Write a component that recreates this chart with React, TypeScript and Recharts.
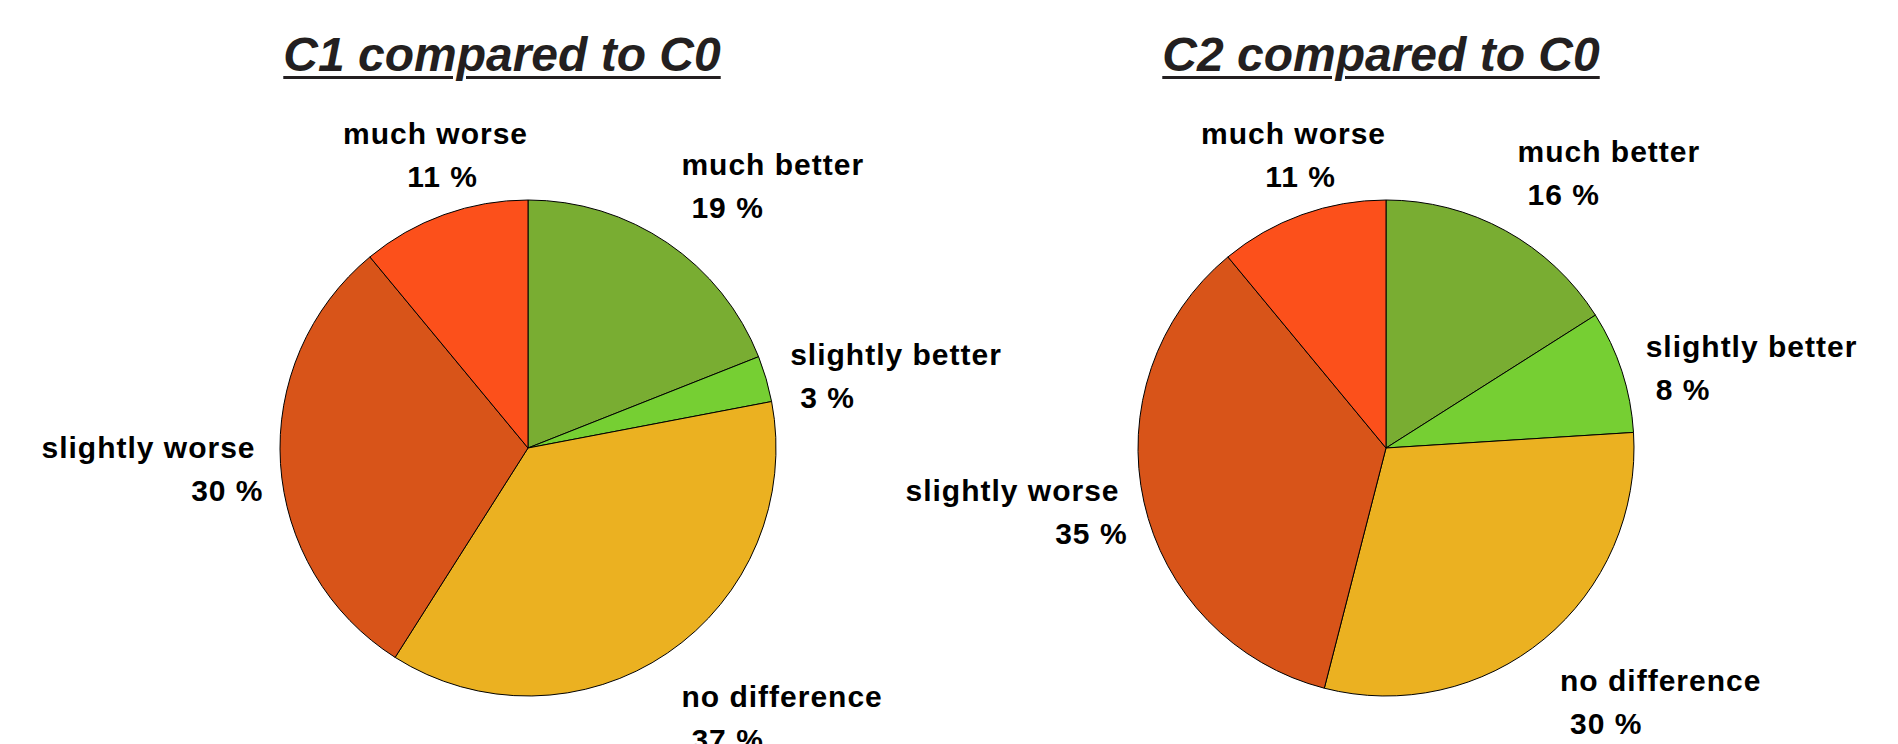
import { PieChart, Pie, Cell } from 'recharts';

const categories = ['much better', 'slightly better', 'no difference', 'slightly worse', 'much worse'];
const sliceColors = ['#79ad32', '#76cf33', '#ebb121', '#d85419', '#fc501b'];
const c1Values = [19, 3, 37, 30, 11];
const c2Values = [16, 8, 30, 35, 11];
const titles = ['C1 compared to C0', 'C2 compared to C0'];

const W = 1898;
const H = 744;
const R = 248;
const pies = [
  { cx: 528, cy: 448, titleX: 502, values: c1Values, title: titles[0] },
  { cx: 1386, cy: 448, titleX: 1381, values: c2Values, title: titles[1] },
];

const RAD = Math.PI / 180;
const labelFont = { fontFamily: '"Liberation Sans", Arial, sans-serif', fontWeight: 700, fontSize: 30, letterSpacing: 1 };

// excel-style outside labels: name on first line, percent below
function renderLabel(props: any) {
  const { cx, cy, midAngle, outerRadius, name, value } = props;
  const cos = Math.cos(midAngle * RAD);
  const sin = Math.sin(midAngle * RAD);
  const r = outerRadius + 25;
  const x = cx + r * cos;
  const y = cy - r * sin;
  let anchor: 'start' | 'middle' | 'end' = 'middle';
  let dx = 7;
  if (cos > 0.4) { anchor = 'start'; dx = 10; }
  else if (cos < -0.4) { anchor = 'end'; dx = 8; }
  let mid = y + 4;
  if (sin > 0.6) mid -= 40;
  else if (sin < -0.6) mid += 40;
  return (
    <g>
      <text x={x} y={mid - 11} textAnchor={anchor} fill="#000" style={labelFont}>{name}</text>
      <text x={x + dx} y={mid + 32} textAnchor={anchor} fill="#000" style={labelFont}>{`${value} %`}</text>
    </g>
  );
}

export default function App() {
  return (
    <div style={{ position: 'absolute', top: 0, left: 0, width: W, height: H, background: '#fff' }}>
      <PieChart width={W} height={H} margin={{ top: 0, right: 0, bottom: 0, left: 0 }}>
        {pies.map((p, i) => (
          <Pie
            key={i}
            data={categories.map((name, j) => ({ name, value: p.values[j] }))}
            dataKey="value"
            nameKey="name"
            cx={p.cx}
            cy={p.cy}
            outerRadius={R}
            startAngle={90}
            endAngle={-270}
            stroke="#000"
            strokeWidth={1}
            label={renderLabel}
            labelLine={false}
            isAnimationActive={false}
          >
            {categories.map((c, j) => (
              <Cell key={c} fill={sliceColors[j]} />
            ))}
          </Pie>
        ))}
      </PieChart>
      {pies.map((p, i) => (
        <div
          key={i}
          style={{
            position: 'absolute',
            left: p.titleX - 300,
            width: 600,
            top: 31,
            lineHeight: '48px',
            textAlign: 'center',
            fontFamily: '"Liberation Sans", Arial, sans-serif',
            fontWeight: 700,
            fontStyle: 'italic',
            fontSize: 48,
            color: '#231f20',
            textDecoration: 'underline',
            textDecorationThickness: 3,
            textUnderlineOffset: 5,
          }}
        >
          {p.title}
        </div>
      ))}
    </div>
  );
}
